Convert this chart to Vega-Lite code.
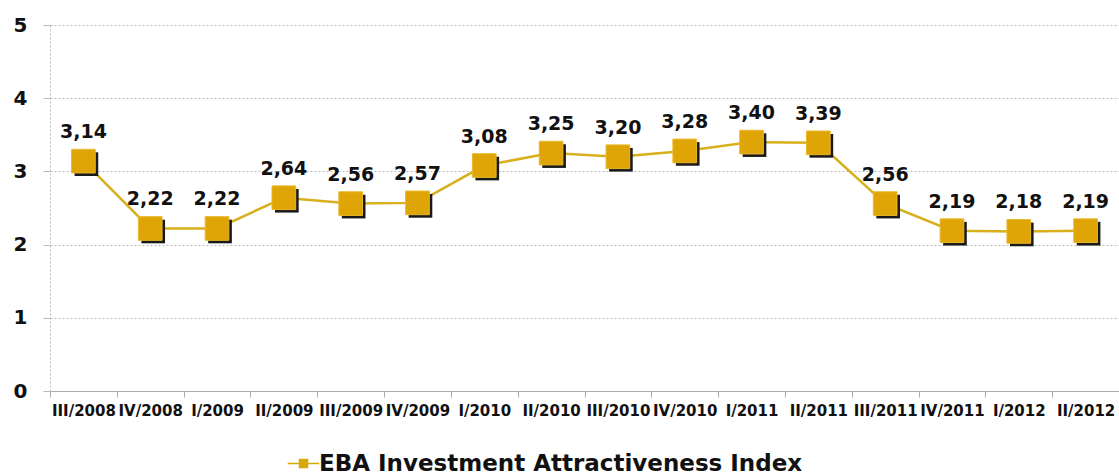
{
  "$schema": "https://vega.github.io/schema/vega-lite/v6.json",
  "width": 1069,
  "height": 366,
  "autosize": {"type": "none"},
  "padding": {"left": 50, "top": 25, "right": 0, "bottom": 85},
  "background": "white",
  "config": {
    "view": {"stroke": null},
    "locale": {"number": {"decimal": ",", "thousands": ".", "grouping": [3], "currency": ["", " €"]}},
    "font": "Liberation Sans"
  },
  "data": {
    "values": [
      {"period": "III/2008", "index": 3.14},
      {"period": "IV/2008", "index": 2.22},
      {"period": "I/2009", "index": 2.22},
      {"period": "II/2009", "index": 2.64},
      {"period": "III/2009", "index": 2.56},
      {"period": "IV/2009", "index": 2.57},
      {"period": "I/2010", "index": 3.08},
      {"period": "II/2010", "index": 3.25},
      {"period": "III/2010", "index": 3.20},
      {"period": "IV/2010", "index": 3.28},
      {"period": "I/2011", "index": 3.40},
      {"period": "II/2011", "index": 3.39},
      {"period": "III/2011", "index": 2.56},
      {"period": "IV/2011", "index": 2.19},
      {"period": "I/2012", "index": 2.18},
      {"period": "II/2012", "index": 2.19}
    ]
  },
  "encoding": {
    "x": {
      "field": "period", "type": "nominal", "sort": null,
      "scale": {"paddingInner": 0, "paddingOuter": 0},
      "axis": {
        "title": null, "labelAngle": 0, "tickBand": "extent",
        "labelFont": "DejaVu Sans", "labelFontWeight": "bold", "labelFontSize": 15,
        "labelColor": "#111", "labelPadding": 6, "tickSize": 6, "tickColor": "#aaa",
        "domainColor": "#aaa", "grid": false, "labelOverlap": false, "labelBound": false, "labelLimit": 0
      }
    },
    "y": {
      "field": "index", "type": "quantitative",
      "scale": {"domain": [0, 5], "nice": false},
      "axis": {
        "title": null, "values": [0, 1, 2, 3, 4, 5], "tickSize": 7, "tickColor": "#bbb",
        "labelFont": "DejaVu Sans", "labelFontWeight": "bold", "labelFontSize": 20,
        "labelColor": "#111", "labelPadding": 16,
        "gridColor": "#bbb", "gridDash": [2, 2], "domainColor": "#bbb", "domainDash": [2, 2]
      }
    }
  },
  "layer": [
    {
      "mark": {"type": "line", "strokeWidth": 2.5},
      "encoding": {
        "color": {
          "datum": "EBA Investment Attractiveness Index",
          "scale": {"range": ["#D7B01C"]},
          "legend": {
            "title": null, "orient": "none", "legendX": 242, "legendY": 427,
            "labelFont": "DejaVu Sans", "labelFontWeight": "bold", "labelFontSize": 23, "labelColor": "#111",
            "labelLimit": 0,
            "symbolType": "M-1.5,-0.08H-0.45V-0.45H0.45V-0.08H1.5V0.08H0.45V0.45H-0.45V0.08H-1.5Z",
            "symbolSize": 440, "symbolFillColor": "#D7A70C", "symbolStrokeWidth": 0, "labelOffset": 4
          }
        }
      }
    },
    {
      "mark": {"type": "square", "size": 560, "xOffset": 3, "yOffset": 3, "opacity": 1, "color": "#1a1a1a"},
      "encoding": {}
    },
    {
      "mark": {"type": "square", "size": 560, "opacity": 1, "color": "#DFA506", "stroke": "#E9B829", "strokeWidth": 1},
      "encoding": {}
    },
    {
      "mark": {"type": "text", "dy": -29, "font": "DejaVu Sans", "fontWeight": "bold", "fontSize": 19, "color": "#111"},
      "encoding": {"text": {"field": "index", "type": "quantitative", "format": ".2f"}}
    }
  ]
}
